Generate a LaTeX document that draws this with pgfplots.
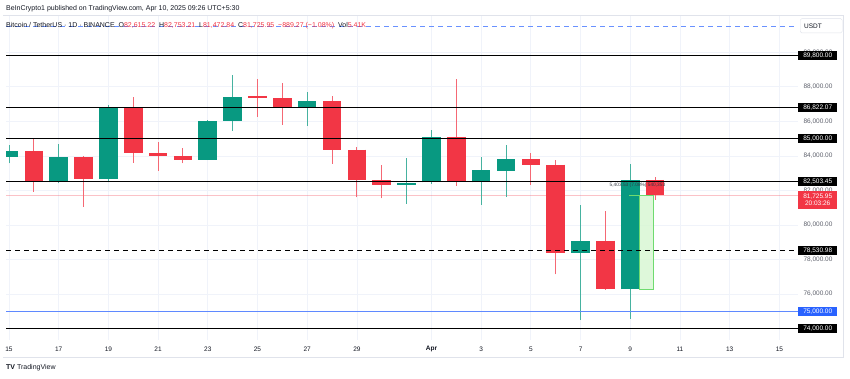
\documentclass[border=0pt]{standalone}
\usepackage{pgfplots}
\pgfplotsset{compat=1.18}
\usepackage{pgfplotstable}
\usepackage{fontspec}
\setmainfont{Liberation Sans}
\definecolor{tvgreen}{HTML}{089981}
\definecolor{tvred}{HTML}{F23645}
\definecolor{tvblue}{HTML}{2962FF}
\definecolor{gridc}{HTML}{F0F3FA}
\definecolor{framec}{HTML}{E0E3EB}
\definecolor{txt}{HTML}{131722}
\definecolor{lbl}{HTML}{5D606B}
\definecolor{projfill}{HTML}{D8F7D4}
\definecolor{projline}{HTML}{6FDB6F}

% day index: 0 = Mar 15, 17 = Apr 1
\pgfplotstableread{
d o h l c
0 83920 84615 83573 84285
2 82473 84690 82416 83955
4 82647 86947 82473 86756
8 83782 86079 83760 86021
9 86021 88683 85460 87427
12 86831 87682 85749 87161
16 82317 83862 81218 82451
17 82473 85500 82400 85095
19 82473 83938 81160 83168
20 83145 84650 81640 83822
23 78400 81160 74505 79094
25 76282 83533 74580 82615
}\upcandles

\pgfplotstableread{
d o h l c
1 84285 85037 81930 82473
3 83955 84010 81062 82647
5 86756 87393 83608 84169
6 84152 84806 83128 84013
7 84013 84441 83573 83782
10 87468 88469 86270 87335
11 87335 88220 85807 86831
13 87161 87450 83550 84360
14 84360 84534 81605 82589
15 82589 83457 81548 82317
18 85095 88434 82260 82473
21 83822 84187 82317 83475
22 83492 83747 77150 78400
24 79094 80813 76250 76282
26 82615 82753 81473 81726
}\downcandles

\begin{document}
\begin{tikzpicture}[x=1pt,y=1pt]
% frame of the chart panel
\draw[framec, line width=0.7pt] (3,362.3) -- (843,362.3) -- (843,21) -- (3,21);
\begin{axis}[
  at={(6pt,38pt)}, anchor=south west, scale only axis,
  width=792pt, height=324pt,
  xmin=-0.12, xmax=31.75, ymin=73346, ymax=92098,
  clip mode=individual,
  axis line style={draw=none}, major tick length=0pt,
  xtick={0,2,4,6,8,10,12,14,17,19,21,23,25,27,29,31},
  xticklabels={15,17,19,21,23,25,27,29,\textbf{Apr},3,5,7,9,11,13,15},
  ytick={76000,78000,80000,82000,84000,86000,88000,90000},
  scaled y ticks=false,
  yticklabel pos=right,
  grid=major, grid style={gridc, line width=0.8pt},
  xticklabel style={font=\fontsize{6.5}{7}\selectfont, text=txt, anchor=center, yshift=-9pt},
  yticklabel style={font=\fontsize{6.5}{7}\selectfont, text=lbl, anchor=center, xshift=20pt},
  /pgf/number format/fixed, /pgf/number format/precision=2,
  /pgf/number format/fixed zerofill, /pgf/number format/1000 sep={,},
  /pgf/number format/assume math mode=true,
]
% current price line and top dashed line
\addplot[tvred, opacity=0.3, line width=0.8pt] coordinates {(-0.12,81725.95) (31.75,81725.95)};
\addplot[tvblue!70, line width=0.8pt, dash pattern=on 5pt off 4pt] coordinates {(-0.12,91500) (31.75,91500)};
% wicks
\addplot[tvgreen!75, line width=0.9pt, quiver={u=0, v=\thisrow{h}-\thisrow{l}}] table[x=d, y=l] {\upcandles};
\addplot[tvred!75, line width=0.9pt, quiver={u=0, v=\thisrow{h}-\thisrow{l}}] table[x=d, y=l] {\downcandles};
% bodies
\addplot[tvgreen, line width=18.6pt, quiver={u=0, v=\thisrow{c}-\thisrow{o}}] table[x=d, y=o] {\upcandles};
\addplot[tvred, line width=18.6pt, quiver={u=0, v=\thisrow{c}-\thisrow{o}}] table[x=d, y=o] {\downcandles};
% projection box
\addplot[fill=projfill, fill opacity=0.85, draw=projline, line width=0.8pt] coordinates {(25.36,76282) (25.93,76282) (25.93,81726) (25.36,81726) (25.36,76282)};
\addplot[projline, line width=0.9pt] coordinates {(24.95,81726) (25.93,81726)};
% horizontal levels
\addplot[black, line width=1.1pt] coordinates {(-0.12,89800) (31.75,89800)};
\addplot[black, line width=1.1pt] coordinates {(-0.12,86822.07) (31.75,86822.07)};
\addplot[black, line width=1.1pt] coordinates {(-0.12,85000) (31.75,85000)};
\addplot[black, line width=1.1pt] coordinates {(-0.12,82503.45) (31.75,82503.45)};
\addplot[black, line width=1.1pt, dash pattern=on 5pt off 4pt] coordinates {(-0.12,78530.98) (31.75,78530.98)};
\addplot[tvblue!75, line width=1.2pt] coordinates {(-0.12,75000) (31.75,75000)};
\addplot[black, line width=1.1pt] coordinates {(-0.12,74000) (31.75,74000)};
\node[font=\fontsize{4.8}{5}\selectfont, text=txt!85] at (axis cs:25.29,82317) {5,403.53 (7.08\%) 540,353};
\coordinate (b1) at (axis cs:31.75,89800);
\coordinate (b2) at (axis cs:31.75,86822.07);
\coordinate (b3) at (axis cs:31.75,85000);
\coordinate (b4) at (axis cs:31.75,82503.45);
\coordinate (b5) at (axis cs:31.75,81725.95);
\coordinate (b6) at (axis cs:31.75,78530.98);
\coordinate (b7) at (axis cs:31.75,75000);
\coordinate (b8) at (axis cs:31.75,74000);
\end{axis}
\tikzset{pbox/.style={anchor=west, minimum width=39pt, minimum height=9pt, inner sep=0pt, text=white, font=\fontsize{6.5}{7}\selectfont}}
\node[pbox, fill=black] at (b1) {89,800.00};
\node[pbox, fill=black] at (b2) {86,822.07};
\node[pbox, fill=black] at (b3) {85,000.00};
\node[pbox, fill=black] at (b4) {82,503.45};
\node[pbox, fill=tvred, anchor=north west, minimum height=17.6pt, align=center, font=\fontsize{6.5}{7.6}\selectfont, yshift=4.4pt] at (b5) {81,725.95\\20:03:26};
\node[pbox, fill=black] at (b6) {78,530.98};
\node[pbox, fill=tvblue] at (b7) {75,000.00};
\node[pbox, fill=black] at (b8) {74,000.00};
% USDT box
\node[draw=framec, fill=white, rounded corners=1.5pt, anchor=west, minimum height=14.3pt, text width=34pt, inner xsep=4pt, inner ysep=0pt, align=left, font=\fontsize{6.5}{7}\selectfont, text=txt] at (800,352.2) {USDT};
% header texts
\node[anchor=west, inner sep=0pt, font=\fontsize{7}{8}\selectfont, text=txt] at (6,369) {BeInCrypto1 published on TradingView.com, Apr 10, 2025 09:26 UTC+5:30};
\node[anchor=west, inner sep=0pt, font=\fontsize{7}{8}\selectfont, text=txt] at (6,352) {Bitcoin / TetherUS · 1D · BINANCE\ \ O\textcolor{tvred}{82,615.22}\ \ H\textcolor{tvred}{82,753.21}\ \ L\textcolor{tvred}{81,472.84}\ \ C\textcolor{tvred}{81,725.95\ \ −889.27 (−1.08\%)}\ \ Vol\textcolor{tvred}{5.41K}};
% footer logo
\node[anchor=west, inner sep=0pt, font=\fontsize{7}{8}\selectfont, text=txt] at (6,10) {\textbf{TV} TradingView};
\useasboundingbox (0,0) rectangle (850,378);
\end{tikzpicture}
\end{document}
